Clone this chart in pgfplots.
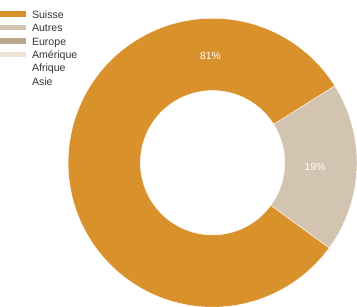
\documentclass[border=0pt]{standalone}
\usepackage{pgfplots}
\pgfplotsset{compat=1.18}
\usepackage{fontspec}
\setmainfont{Liberation Sans}
\definecolor{suisse}{HTML}{D8912B}
\definecolor{autres}{HTML}{D2C4B1}
\definecolor{europe}{HTML}{BBA78E}
\definecolor{amerique}{HTML}{EEE3D4}
\definecolor{legtext}{HTML}{333333}
% shares in percent
\def\shareSuisse{81}
\def\shareAutres{19}
\def\cx{215}\def\cy{141}\def\ro{142}\def\ri{71}
\pgfmathsetmacro\aStart{-36.2}
\pgfmathsetmacro\aMid{\aStart+3.6*\shareAutres}
\pgfmathsetmacro\aEnd{\aMid+3.6*\shareSuisse}
\newcommand\slice[3]{%
  \fill[#3, draw=white, line width=0.4pt] ([shift={(#1:\ro bp)}]axis cs:\cx,\cy) arc[start angle=#1, end angle=#2, radius=\ro bp] -- ([shift={(#2:\ri bp)}]axis cs:\cx,\cy) arc[start angle=#2, end angle=#1, radius=\ri bp] -- cycle;}
\begin{document}
\begin{tikzpicture}
\begin{axis}[scale only axis, width=357bp, height=301bp,
  xmin=0, xmax=357, ymin=0, ymax=301, hide axis, clip=true,
  legend style={at={(axis cs:6,290.5)}, anchor=north west, draw=none, fill=none,
    inner sep=0pt, outer sep=0pt, row sep=3.15bp,
    font=\fontsize{10.4bp}{12bp}\selectfont, text=legtext,
    nodes={inner sep=0pt, text height=7.5bp, text depth=2.5bp},
    /tikz/every odd column/.style={column sep=5.5bp}},
  legend cell align=left,
  legend image code/.code={\fill[#1,draw=none] (0bp,-1.2bp) rectangle (26bp,4.3bp);}]
\addlegendimage{suisse}
\addlegendentry{Suisse}
\addlegendimage{autres}
\addlegendentry{Autres}
\addlegendimage{europe}
\addlegendentry{Europe}
\addlegendimage{amerique}
\addlegendentry{Amérique}
\addlegendimage{white}
\addlegendentry{Afrique}
\addlegendimage{white}
\addlegendentry{Asie}
\slice{\aStart}{\aMid}{autres}
\slice{\aMid}{\aEnd}{suisse}
\node[text=white, font=\fontsize{10.2bp}{12bp}\selectfont] at (axis cs:213,246) {81\%};
\node[text=white, font=\fontsize{10.2bp}{12bp}\selectfont] at (axis cs:315.7,137) {19\%};
\end{axis}
\end{tikzpicture}
\end{document}
